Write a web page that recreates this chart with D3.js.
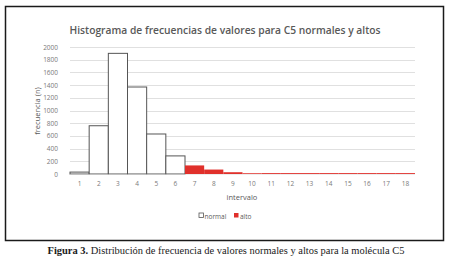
<!DOCTYPE html>
<html><head><meta charset="utf-8">
<script src="https://cdn.jsdelivr.net/npm/d3@7"></script>
<style>body{margin:0;background:#fff}svg{display:block}</style>
</head><body>
<svg id="c" width="450" height="260"></svg>
<script>
const categories = ["1","2","3","4","5","6","7","8","9","10","11","12","13","14","15","16","17","18"];
const normalValues = [30,760,1900,1370,630,285,0,0,0,0,0,0,0,0,0,0,0,0];
const altoValues = [0,0,0,0,0,0,135,70,28,12,14,14,14,14,14,14,14,14];
const yTicks = [0,200,400,600,800,1000,1200,1400,1600,1800,2000];

const svg = d3.select("#c");
const x = d3.scaleBand().domain(categories).range([70, 415]).padding(0);
const y = d3.scaleLinear().domain([0, 2000]).range([174, 47]);

// outer frame
svg.append("rect").attr("x",5.5).attr("y",6.5).attr("width",438).attr("height",234)
  .attr("fill","none").attr("stroke","#1a1a1a").attr("stroke-width",1.5);

// title
svg.append("text").attr("x",225).attr("y",34).attr("text-anchor","middle")
  .attr("font-family","'Open Sans', sans-serif").attr("font-size",11.5).attr("font-weight",600)
  .attr("fill","#595959").attr("textLength",311).attr("lengthAdjust","spacingAndGlyphs")
  .text("Histograma de frecuencias de valores para C5 normales y altos");

// gridlines
svg.append("g").selectAll("line").data(yTicks.filter(d=>d>0)).join("line")
  .attr("x1",70).attr("x2",415).attr("y1",d=>Math.round(y(d))+0.5).attr("y2",d=>Math.round(y(d))+0.5)
  .attr("stroke","#e0e0e0").attr("stroke-width",1);

// y axis labels
const yAxis = d3.axisLeft(y).tickValues(yTicks).tickFormat(d3.format("d")).tickSize(0).tickPadding(0);
const gy = svg.append("g").attr("transform","translate(58,0)").call(yAxis);
gy.select(".domain").remove();
gy.selectAll("text").attr("font-family","'Open Sans', sans-serif").attr("font-size",6.5).attr("fill","#7a7a7a");

// bars normal
svg.append("g").selectAll("rect").data(categories.map((c,i)=>({c,v:normalValues[i]})).filter(d=>d.v>0)).join("rect")
  .attr("x",d=>x(d.c)).attr("y",d=>y(d.v)).attr("width",x.bandwidth()).attr("height",d=>y(0)-y(d.v))
  .attr("fill","#ffffff").attr("stroke","#555555").attr("stroke-width",1);

// baseline
svg.append("line").attr("x1",70).attr("x2",415).attr("y1",174.5).attr("y2",174.5)
  .attr("stroke","#d9d9d9").attr("stroke-width",0.5);

// bars alto
svg.append("g").selectAll("rect").data(categories.map((c,i)=>({c,v:altoValues[i]})).filter(d=>d.v>0)).join("rect")
  .attr("x",d=>x(d.c)).attr("y",d=>y(d.v)).attr("width",x.bandwidth()).attr("height",d=>y(0)-y(d.v))
  .attr("fill","#e0302b").attr("stroke","none");

// x axis labels
const xAxis = d3.axisBottom(x).tickSize(0).tickPadding(0);
const gx = svg.append("g").attr("transform","translate(0,181)").call(xAxis);
gx.select(".domain").remove();
gx.selectAll("text").attr("font-family","'Open Sans', sans-serif").attr("font-size",6.5).attr("fill","#7a7a7a");

// axis titles
svg.append("text").attr("x",242).attr("y",200).attr("text-anchor","middle")
  .attr("font-family","'Open Sans', sans-serif").attr("font-size",7.5).attr("fill","#595959").text("intervalo");
svg.append("text").attr("transform","translate(40,111) rotate(-90)").attr("text-anchor","middle")
  .attr("font-family","'Open Sans', sans-serif").attr("font-size",7.5).attr("fill","#595959").text("frecuencia (n)");

// legend
const leg = svg.append("g");
leg.append("rect").attr("x",199).attr("y",213).attr("width",4.5).attr("height",4.5)
  .attr("fill","#fff").attr("stroke","#555").attr("stroke-width",0.8);
leg.append("text").attr("x",204.5).attr("y",218.5).attr("font-family","'Open Sans', sans-serif")
  .attr("font-size",6.5).attr("fill","#595959").text("normal");
leg.append("rect").attr("x",234).attr("y",213).attr("width",4.5).attr("height",4.5).attr("fill","#e0302b");
leg.append("text").attr("x",240).attr("y",218.5).attr("font-family","'Open Sans', sans-serif")
  .attr("font-size",6.5).attr("fill","#595959").text("alto");

// caption
const cap = svg.append("text").attr("x",226).attr("y",254).attr("text-anchor","middle")
  .attr("font-family","'Liberation Serif', serif").attr("font-size",10.5).attr("fill","#1a1a1a")
  .attr("textLength",357).attr("lengthAdjust","spacingAndGlyphs");
cap.append("tspan").attr("font-weight","bold").text("Figura 3.");
cap.append("tspan").text(" Distribución de frecuencia de valores normales y altos para la molécula C5");
</script>
</body></html>
